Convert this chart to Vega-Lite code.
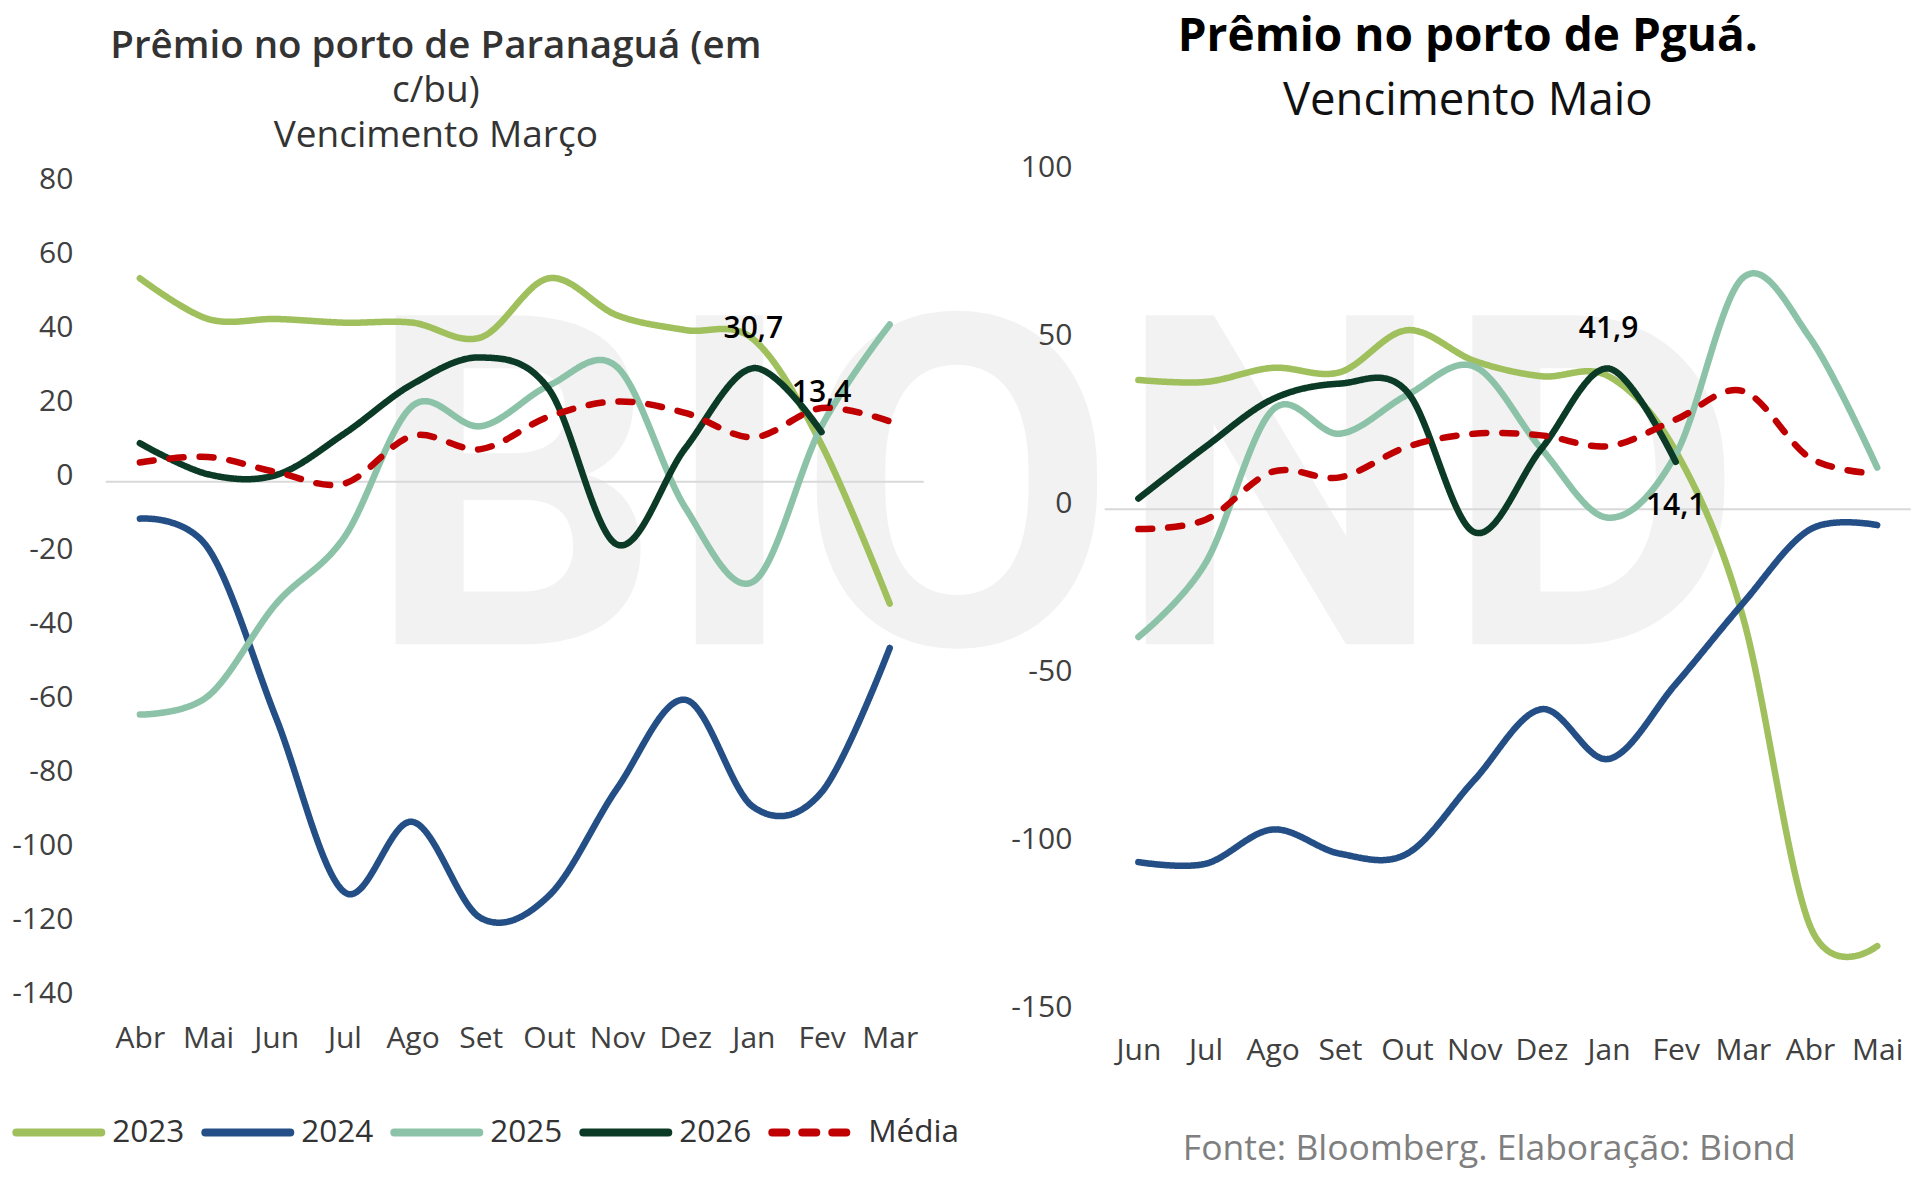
{
  "$schema": "https://vega.github.io/schema/vega-lite/v6.json",
  "background": "white",
  "padding": {"left": 10.8, "top": 14.3, "right": 5, "bottom": 5},
  "autosize": {"type": "pad"},
  "bounds": "flush",
  "spacing": 181,
  "config": {
    "font": "Open Sans",
    "view": {"stroke": null},
    "locale": {"number": {"decimal": ",", "thousands": ".", "grouping": [3], "currency": ["", ""], "minus": "-"}},
    "axis": {"grid": false, "domain": false, "ticks": false, "labelFont": "Open Sans", "labelFontSize": 30, "labelColor": "#404040"}
  },
  "resolve": {"scale": {"color": "independent", "strokeDash": "independent"}},
  "datasets": {
    "esq": [
      {"mes": "Abr", "serie": "2023", "valor": 55}, {"mes": "Mai", "serie": "2023", "valor": 44}, {"mes": "Jun", "serie": "2023", "valor": 44}, {"mes": "Jul", "serie": "2023", "valor": 43}, {"mes": "Ago", "serie": "2023", "valor": 43}, {"mes": "Set", "serie": "2023", "valor": 39}, {"mes": "Out", "serie": "2023", "valor": 55}, {"mes": "Nov", "serie": "2023", "valor": 45}, {"mes": "Dez", "serie": "2023", "valor": 41}, {"mes": "Jan", "serie": "2023", "valor": 38.5}, {"mes": "Fev", "serie": "2023", "valor": 10}, {"mes": "Mar", "serie": "2023", "valor": -33},
      {"mes": "Abr", "serie": "2024", "valor": -10}, {"mes": "Mai", "serie": "2024", "valor": -18}, {"mes": "Jun", "serie": "2024", "valor": -64}, {"mes": "Jul", "serie": "2024", "valor": -111}, {"mes": "Ago", "serie": "2024", "valor": -92}, {"mes": "Set", "serie": "2024", "valor": -118}, {"mes": "Out", "serie": "2024", "valor": -112}, {"mes": "Nov", "serie": "2024", "valor": -83}, {"mes": "Dez", "serie": "2024", "valor": -59}, {"mes": "Jan", "serie": "2024", "valor": -88}, {"mes": "Fev", "serie": "2024", "valor": -84}, {"mes": "Mar", "serie": "2024", "valor": -45},
      {"mes": "Abr", "serie": "2025", "valor": -63}, {"mes": "Mai", "serie": "2025", "valor": -58}, {"mes": "Jun", "serie": "2025", "valor": -33}, {"mes": "Jul", "serie": "2025", "valor": -15}, {"mes": "Ago", "serie": "2025", "valor": 20.5}, {"mes": "Set", "serie": "2025", "valor": 15}, {"mes": "Out", "serie": "2025", "valor": 26}, {"mes": "Nov", "serie": "2025", "valor": 31}, {"mes": "Dez", "serie": "2025", "valor": -7}, {"mes": "Jan", "serie": "2025", "valor": -27}, {"mes": "Fev", "serie": "2025", "valor": 15}, {"mes": "Mar", "serie": "2025", "valor": 42.5},
      {"mes": "Abr", "serie": "2026", "valor": 10.4}, {"mes": "Mai", "serie": "2026", "valor": 2}, {"mes": "Jun", "serie": "2026", "valor": 1.8}, {"mes": "Jul", "serie": "2026", "valor": 13}, {"mes": "Ago", "serie": "2026", "valor": 26.4}, {"mes": "Set", "serie": "2026", "valor": 33.6}, {"mes": "Out", "serie": "2026", "valor": 25}, {"mes": "Nov", "serie": "2026", "valor": -17}, {"mes": "Dez", "serie": "2026", "valor": 9}, {"mes": "Jan", "serie": "2026", "valor": 30.7}, {"mes": "Fev", "serie": "2026", "valor": 13.4},
      {"mes": "Abr", "serie": "Média", "valor": 5.2}, {"mes": "Mai", "serie": "Média", "valor": 6.7}, {"mes": "Jun", "serie": "Média", "valor": 2.6}, {"mes": "Jul", "serie": "Média", "valor": -0.5}, {"mes": "Ago", "serie": "Média", "valor": 12.4}, {"mes": "Set", "serie": "Média", "valor": 8.8}, {"mes": "Out", "serie": "Média", "valor": 17.6}, {"mes": "Nov", "serie": "Média", "valor": 21.7}, {"mes": "Dez", "serie": "Média", "valor": 18.6}, {"mes": "Jan", "serie": "Média", "valor": 12}, {"mes": "Fev", "serie": "Média", "valor": 19.9}, {"mes": "Mar", "serie": "Média", "valor": 16.3}
    ],
    "dir": [
      {"mes": "Jun", "serie": "2023", "valor": 38.5}, {"mes": "Jul", "serie": "2023", "valor": 37.9}, {"mes": "Ago", "serie": "2023", "valor": 42.1}, {"mes": "Set", "serie": "2023", "valor": 40.8}, {"mes": "Out", "serie": "2023", "valor": 53.3}, {"mes": "Nov", "serie": "2023", "valor": 44.2}, {"mes": "Dez", "serie": "2023", "valor": 39.6}, {"mes": "Jan", "serie": "2023", "valor": 39.6}, {"mes": "Fev", "serie": "2023", "valor": 17.3}, {"mes": "Mar", "serie": "2023", "valor": -32}, {"mes": "Abr", "serie": "2023", "valor": -124}, {"mes": "Mai", "serie": "2023", "valor": -130},
      {"mes": "Jun", "serie": "2024", "valor": -105}, {"mes": "Jul", "serie": "2024", "valor": -105.5}, {"mes": "Ago", "serie": "2024", "valor": -95.3}, {"mes": "Set", "serie": "2024", "valor": -102.5}, {"mes": "Out", "serie": "2024", "valor": -102.5}, {"mes": "Nov", "serie": "2024", "valor": -80.6}, {"mes": "Dez", "serie": "2024", "valor": -59.5}, {"mes": "Jan", "serie": "2024", "valor": -74.3}, {"mes": "Fev", "serie": "2024", "valor": -52}, {"mes": "Mar", "serie": "2024", "valor": -28}, {"mes": "Abr", "serie": "2024", "valor": -6}, {"mes": "Mai", "serie": "2024", "valor": -4.7},
      {"mes": "Jun", "serie": "2025", "valor": -38}, {"mes": "Jul", "serie": "2025", "valor": -16}, {"mes": "Ago", "serie": "2025", "valor": 29.6}, {"mes": "Set", "serie": "2025", "valor": 22.5}, {"mes": "Out", "serie": "2025", "valor": 34}, {"mes": "Nov", "serie": "2025", "valor": 42.5}, {"mes": "Dez", "serie": "2025", "valor": 18}, {"mes": "Jan", "serie": "2025", "valor": -2.5}, {"mes": "Fev", "serie": "2025", "valor": 16.3}, {"mes": "Mar", "serie": "2025", "valor": 68.9}, {"mes": "Abr", "serie": "2025", "valor": 51}, {"mes": "Mai", "serie": "2025", "valor": 12.4},
      {"mes": "Jun", "serie": "2026", "valor": 3.2}, {"mes": "Jul", "serie": "2026", "valor": 18.6}, {"mes": "Ago", "serie": "2026", "valor": 32.8}, {"mes": "Set", "serie": "2026", "valor": 37.4}, {"mes": "Out", "serie": "2026", "valor": 35}, {"mes": "Nov", "serie": "2026", "valor": -6.8}, {"mes": "Dez", "serie": "2026", "valor": 18}, {"mes": "Jan", "serie": "2026", "valor": 41.9}, {"mes": "Fev", "serie": "2026", "valor": 14.1},
      {"mes": "Jun", "serie": "Média", "valor": -5.9}, {"mes": "Jul", "serie": "Média", "valor": -3.1}, {"mes": "Ago", "serie": "Média", "valor": 11.2}, {"mes": "Set", "serie": "Média", "valor": 9.5}, {"mes": "Out", "serie": "Média", "valor": 18.6}, {"mes": "Nov", "serie": "Média", "valor": 22.5}, {"mes": "Dez", "serie": "Média", "valor": 22}, {"mes": "Jan", "serie": "Média", "valor": 18.8}, {"mes": "Fev", "serie": "Média", "valor": 26.7}, {"mes": "Mar", "serie": "Média", "valor": 35.2}, {"mes": "Abr", "serie": "Média", "valor": 15.3}, {"mes": "Mai", "serie": "Média", "valor": 10.6}
    ]
  },
  "hconcat": [
    {
      "width": 818,
      "height": 826,
      "title": {
        "text": "Prêmio no porto de Paranaguá (em",
        "subtitle": ["c/bu)", "Vencimento Março"],
        "anchor": "middle",
        "frame": "group",
        "dx": -79,
        "offset": 9.5,
        "font": "Open Sans",
        "fontSize": 38.5,
        "fontWeight": 600,
        "color": "#333333",
        "subtitleFont": "Open Sans",
        "subtitleFontSize": 37,
        "subtitleFontWeight": "normal",
        "subtitleColor": "#333333",
        "subtitleLineHeight": 45,
        "subtitlePadding": 7
      },
      "layer": [
        {
          "data": {"values": [{}]},
          "mark": {"type": "text", "text": "BIOND", "font": "Roboto", "fontWeight": "bold", "fontSize": 463, "color": "#f2f2f2", "align": "left", "baseline": "alphabetic", "dx": 22},
          "encoding": {
            "x": {"datum": "Jul", "type": "ordinal", "scale": {"type": "point", "padding": 0.5, "domain": ["Abr", "Mai", "Jun", "Jul", "Ago", "Set", "Out", "Nov", "Dez", "Jan", "Fev", "Mar"]}, "axis": {"title": null, "labelAngle": 0, "labelAlign": "center", "labelBaseline": "top", "labelPadding": 24}},
            "y": {"datum": -44, "type": "quantitative", "axis": {"title": null, "values": [-140, -120, -100, -80, -60, -40, -20, 0, 20, 40, 60, 80], "labelPadding": 33, "labelOffset": -6}}
          }
        },
        {
          "data": {"values": [{}]},
          "mark": {"type": "rule", "color": "#d9d9d9", "strokeWidth": 2},
          "encoding": {"y": {"datum": 0, "type": "quantitative"}}
        },
        {
          "data": {"name": "esq"},
          "mark": {"type": "line", "interpolate": "cardinal", "strokeWidth": 6.5, "strokeCap": "round"},
          "encoding": {
            "x": {"field": "mes", "type": "ordinal", "sort": ["Abr", "Mai", "Jun", "Jul", "Ago", "Set", "Out", "Nov", "Dez", "Jan", "Fev", "Mar"], "scale": {"type": "point", "padding": 0.5, "domain": ["Abr", "Mai", "Jun", "Jul", "Ago", "Set", "Out", "Nov", "Dez", "Jan", "Fev", "Mar"]}, "axis": {"title": null, "labelAngle": 0, "labelAlign": "center", "labelBaseline": "top", "labelPadding": 24}},
            "y": {"field": "valor", "type": "quantitative", "scale": {"domain": [-140, 83.4], "nice": false, "zero": false}, "axis": {"title": null, "values": [-140, -120, -100, -80, -60, -40, -20, 0, 20, 40, 60, 80], "labelPadding": 33, "labelOffset": -6}},
            "color": {"field": "serie", "type": "nominal", "scale": {"domain": ["2023", "2024", "2025", "2026", "Média"], "range": ["#9fc05d", "#234f86", "#8cc3a8", "#0b3b26", "#c00000"]},
              "legend": {"title": null, "orient": "none", "direction": "horizontal", "columns": 5, "legendX": -93.5, "legendY": 912.5, "symbolType": "stroke", "symbolSize": 7225, "symbolStrokeWidth": 8, "labelFont": "Open Sans", "labelFontSize": 31.5, "labelColor": "#333333", "labelOffset": 7, "columnPadding": 4, "encode": {"symbols": {"update": {"strokeCap": {"value": "round"}}}}}},
            "strokeDash": {"field": "serie", "type": "nominal", "scale": {"domain": ["2023", "2024", "2025", "2026", "Média"], "range": [[1, 0], [1, 0], [1, 0], [1, 0], [14, 16]]},
              "legend": {"title": null, "orient": "none", "direction": "horizontal", "columns": 5, "legendX": -93.5, "legendY": 912.5, "symbolType": "stroke", "symbolSize": 7225, "symbolStrokeWidth": 8, "labelFont": "Open Sans", "labelFontSize": 31.5, "labelColor": "#333333", "labelOffset": 7, "columnPadding": 4, "encode": {"symbols": {"update": {"strokeCap": {"value": "round"}}}}}}
          }
        },
        {
          "data": {"name": "esq"},
          "transform": [{"filter": "datum.serie === '2026' && (datum.mes === 'Jan' || datum.mes === 'Fev')"}],
          "mark": {"type": "text", "dy": -39, "font": "Open Sans", "fontSize": 30, "fontWeight": 600, "color": "#000000"},
          "encoding": {
            "x": {"field": "mes", "type": "ordinal", "scale": {"type": "point", "padding": 0.5, "domain": ["Abr", "Mai", "Jun", "Jul", "Ago", "Set", "Out", "Nov", "Dez", "Jan", "Fev", "Mar"]}},
            "y": {"field": "valor", "type": "quantitative"},
            "text": {"field": "valor", "type": "quantitative", "format": ".1f"}
          }
        }
      ]
    },
    {
      "width": 806,
      "height": 840,
      "title": {
        "text": "Prêmio no porto de Pguá.",
        "subtitle": "Vencimento Maio",
        "anchor": "middle",
        "frame": "group",
        "dx": -40,
        "offset": 26.5,
        "font": "Open Sans",
        "fontSize": 46,
        "fontWeight": "bold",
        "color": "#000000",
        "subtitleFont": "Open Sans",
        "subtitleFontSize": 45.5,
        "subtitleFontWeight": "normal",
        "subtitleColor": "#111111",
        "subtitlePadding": 18
      },
      "layer": [
        {
          "data": {"values": [{}]},
          "mark": {"type": "rule", "color": "#d9d9d9", "strokeWidth": 2},
          "encoding": {"y": {"datum": 0, "type": "quantitative"}}
        },
        {
          "data": {"name": "dir"},
          "mark": {"type": "line", "interpolate": "cardinal", "strokeWidth": 6.5, "strokeCap": "round"},
          "encoding": {
            "x": {"field": "mes", "type": "ordinal", "sort": ["Jun", "Jul", "Ago", "Set", "Out", "Nov", "Dez", "Jan", "Fev", "Mar", "Abr", "Mai"], "scale": {"type": "point", "padding": 0.5, "domain": ["Jun", "Jul", "Ago", "Set", "Out", "Nov", "Dez", "Jan", "Fev", "Mar", "Abr", "Mai"]},
              "axis": {"title": "Fonte: Bloomberg. Elaboração: Biond", "titleFont": "Open Sans", "titleFontSize": 35.5, "titleFontWeight": "normal", "titleColor": "#7f7f7f", "titlePadding": 66, "titleX": 384, "labelAngle": 0, "labelAlign": "center", "labelBaseline": "top", "labelPadding": 22}},
            "y": {"field": "valor", "type": "quantitative", "scale": {"domain": [-150, 100], "nice": false, "zero": false}, "axis": {"title": null, "values": [-150, -100, -50, 0, 50, 100], "labelPadding": 33, "labelOffset": -6}},
            "color": {"field": "serie", "type": "nominal", "scale": {"domain": ["2023", "2024", "2025", "2026", "Média"], "range": ["#9fc05d", "#234f86", "#8cc3a8", "#0b3b26", "#c00000"]}, "legend": null},
            "strokeDash": {"field": "serie", "type": "nominal", "scale": {"domain": ["2023", "2024", "2025", "2026", "Média"], "range": [[1, 0], [1, 0], [1, 0], [1, 0], [14, 16]]}, "legend": null}
          }
        },
        {
          "data": {"name": "dir"},
          "transform": [{"filter": "datum.serie === '2026' && datum.mes === 'Jan'"}],
          "mark": {"type": "text", "dy": -40, "font": "Open Sans", "fontSize": 30, "fontWeight": 600, "color": "#000000"},
          "encoding": {
            "x": {"field": "mes", "type": "ordinal", "scale": {"type": "point", "padding": 0.5, "domain": ["Jun", "Jul", "Ago", "Set", "Out", "Nov", "Dez", "Jan", "Fev", "Mar", "Abr", "Mai"]}},
            "y": {"field": "valor", "type": "quantitative"},
            "text": {"field": "valor", "type": "quantitative", "format": ".1f"}
          }
        },
        {
          "data": {"name": "dir"},
          "transform": [{"filter": "datum.serie === '2026' && datum.mes === 'Fev'"}],
          "mark": {"type": "text", "dy": 44, "font": "Open Sans", "fontSize": 30, "fontWeight": 600, "color": "#000000"},
          "encoding": {
            "x": {"field": "mes", "type": "ordinal", "scale": {"type": "point", "padding": 0.5, "domain": ["Jun", "Jul", "Ago", "Set", "Out", "Nov", "Dez", "Jan", "Fev", "Mar", "Abr", "Mai"]}},
            "y": {"field": "valor", "type": "quantitative"},
            "text": {"field": "valor", "type": "quantitative", "format": ".1f"}
          }
        }
      ]
    }
  ]
}
